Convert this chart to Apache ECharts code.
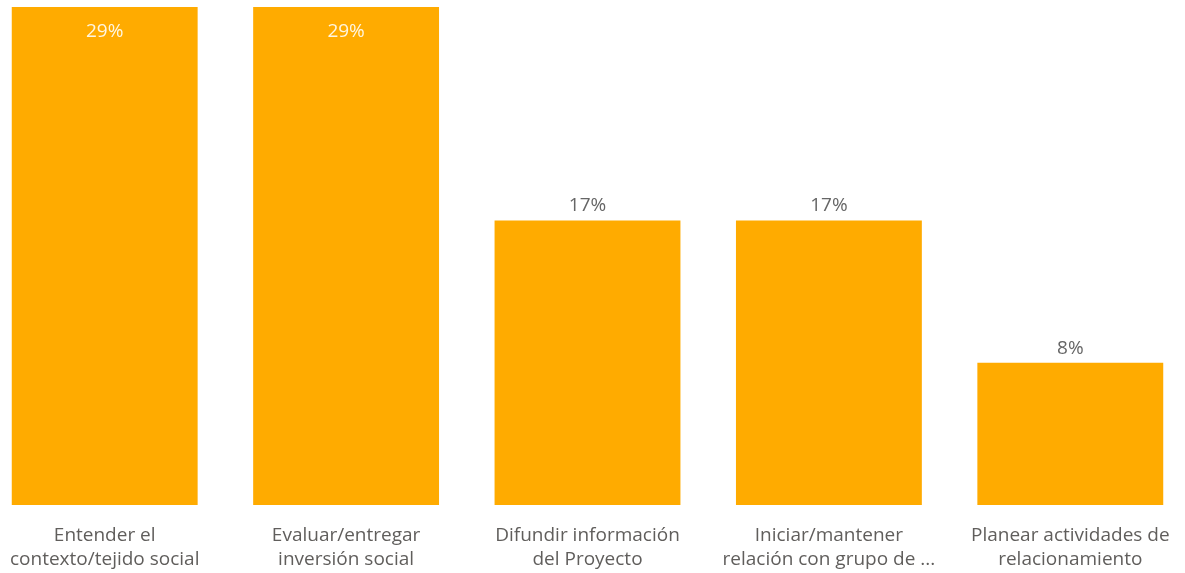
<!DOCTYPE html>
<html>
<head>
<meta charset="utf-8">
<script src="https://cdn.jsdelivr.net/npm/echarts@6/dist/echarts.min.js"></script>
<style>
    html, body { margin: 0; padding: 0; background: #fff; overflow: hidden; }
    /* el area del grafico se sale un poco del borde izquierdo y derecho */
    #chart { position: absolute; left: -16px; top: 0; width: 1207px; height: 573px; }
</style>
</head>
<body>
<div id="chart"></div>
<script>
// categorias (eje x)
const categories = [
    'Entender el\ncontexto/tejido social',
    'Evaluar/entregar\ninversión social',
    'Difundir información\ndel Proyecto',
    'Iniciar/mantener\nrelación con grupo de ...',
    'Planear actividades de\nrelacionamiento'
]
// porcentajes
const values = [29.17, 29.17, 16.67, 16.67, 8.33]

const maxVal = Math.max.apply(null, values)
const seriesData = values.map(function(v) {
    if (v === maxVal) {
        // la barra mas alta lleva la etiqueta por dentro
        return { value: v, label: { position: 'insideTop', color: '#fff6e0', distance: 15 } }
    }
    return v
})

let option = {
    animation: false,
    grid: {
        left: 0,
        right: 0,
        top: 7,
        bottom: 68,
        containLabel: false
    },
    xAxis: {
        type: 'category',
        data: categories,
        axisLine: { show: false },
        axisTick: { show: false },
        axisLabel: {
            interval: 0,
            margin: 19,
            color: '#605e5c',
            fontSize: 19,
            lineHeight: 24,
            fontFamily: 'Open Sans'
        }
    },
    yAxis: {
        type: 'value',
        min: 0,
        max: maxVal,
        show: false,
        splitLine: { show: false }
    },
    series: [
        {
            type: 'bar',
            data: seriesData,
            barCategoryGap: '23%',
            itemStyle: { color: '#FFAB00' },
            label: {
                show: true,
                position: 'top',
                distance: 5,
                color: '#666666',
                fontSize: 19,
                fontFamily: 'Open Sans',
                formatter: function(p) {
                    return Math.round(p.value) + '%'
                }
            }
        }
    ]
}

var myChart = echarts.init(document.getElementById('chart'))
myChart.setOption(option)
</script>
</body>
</html>
